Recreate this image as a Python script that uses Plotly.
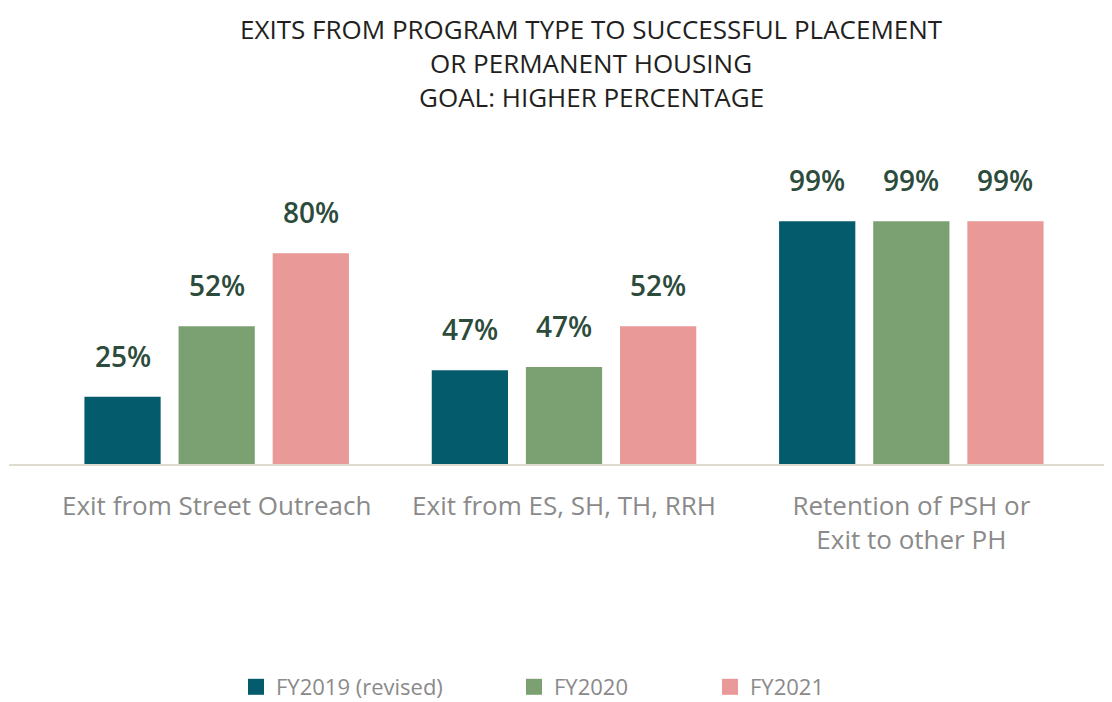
import plotly.graph_objects as go

categories = ['Exit from Street Outreach', 'Exit from ES, SH, TH, RRH',
              'Retention of PSH or<br>Exit to other PH']
series_names = ['FY2019 (revised)', 'FY2020', 'FY2021']
series_colors = ['#045b6b', '#7ba173', '#ea9999']

# bar heights as drawn in the picture (axis units, 0-100)
fy2019_heights = [26, 36, 92]
fy2020_heights = [52.5, 37.2, 92]
fy2021_heights = [80, 52.5, 92]
heights = [fy2019_heights, fy2020_heights, fy2021_heights]

# labels printed above the bars
fy2019_labels = ['25%', '47%', '99%']
fy2020_labels = ['52%', '47%', '99%']
fy2021_labels = ['80%', '52%', '99%']
labels = [fy2019_labels, fy2020_labels, fy2021_labels]

FONT = 'Open Sans'
OFF = 8  # page body margin
W, H = 1112 - OFF, 702 - OFF
ML, MR, MT, MB = 43 - OFF, 27, 200 - OFF, 236
PW, PH = W - ML - MR, H - MT - MB
BARGAP = 0.187


def px_x(x):
    return (x - OFF - ML) / PW


def px_y(y):
    return 1 + (MT - (y - OFF)) / PH


fig = go.Figure()

for name, color, ys in zip(series_names, series_colors, heights):
    fig.add_trace(go.Bar(x=categories, y=ys, name=name, marker=dict(color=color, line=dict(width=0)),
                         showlegend=False))

# legend proxies (bigger square swatches), one legend each
legend_x = [236, 514, 710]
for i, (name, color) in enumerate(zip(series_names, series_colors)):
    fig.add_trace(go.Scatter(x=[None], y=[None], mode='markers', name=name,
                             marker=dict(symbol='square', size=20, color=color),
                             legend='legend' if i == 0 else f'legend{i + 1}'))

# value labels above bars
cat_px = PW / len(categories)
slot = cat_px * (1 - BARGAP) / len(series_names)
for s, (lab, ys) in enumerate(zip(labels, heights)):
    for c, cat in enumerate(categories):
        fig.add_annotation(x=cat, y=ys[c], text=lab[c], showarrow=False,
                           xshift=(s - 1) * slot, yshift=20, yanchor='bottom',
                           font=dict(family=FONT, size=28, color='#2c4b3b', weight=600))

# baseline across the whole width
fig.add_shape(type='line', xref='paper', yref='y', x0=px_x(9), x1=1.05,
              y0=0, y1=0, line=dict(color='#e0dbd0', width=4))

fig.add_annotation(text='EXITS FROM PROGRAM TYPE TO SUCCESSFUL PLACEMENT<br>OR PERMANENT HOUSING',
                   xref='paper', yref='paper', x=px_x(591), y=px_y(9),
                   showarrow=False, yanchor='top',
                   font=dict(family=FONT, size=26, color='#231f20'))
fig.add_annotation(text='GOAL: HIGHER PERCENTAGE', xref='paper', yref='paper',
                   x=px_x(591), y=px_y(97),
                   showarrow=False, yanchor='middle',
                   font=dict(family=FONT, size=26, color='#231f20'))

legend_common = dict(orientation='h', xanchor='left', yanchor='middle', yref='paper',
                     y=px_y(687),
                     font=dict(family=FONT, size=22, color='#8a8a8a'), bgcolor='rgba(0,0,0,0)')

fig.update_layout(
    width=W, height=H,
    margin=dict(l=ML, r=MR, t=MT, b=MB, autoexpand=False),
    paper_bgcolor='white', plot_bgcolor='white',
    barmode='group', bargap=BARGAP, bargroupgap=0.19,
    xaxis=dict(showline=False, showgrid=False, ticks='', ticklabelstandoff=22,
               tickfont=dict(family=FONT, size=26, color='#8a8a8a')),
    yaxis=dict(range=[0, 100], visible=False, showgrid=False, zeroline=False),
    legend=dict(x=px_x(legend_x[0]), **legend_common),
    legend2=dict(x=px_x(legend_x[1]), **legend_common),
    legend3=dict(x=px_x(legend_x[2]), **legend_common),
    showlegend=True,
)

fig.write_html('out.html')
